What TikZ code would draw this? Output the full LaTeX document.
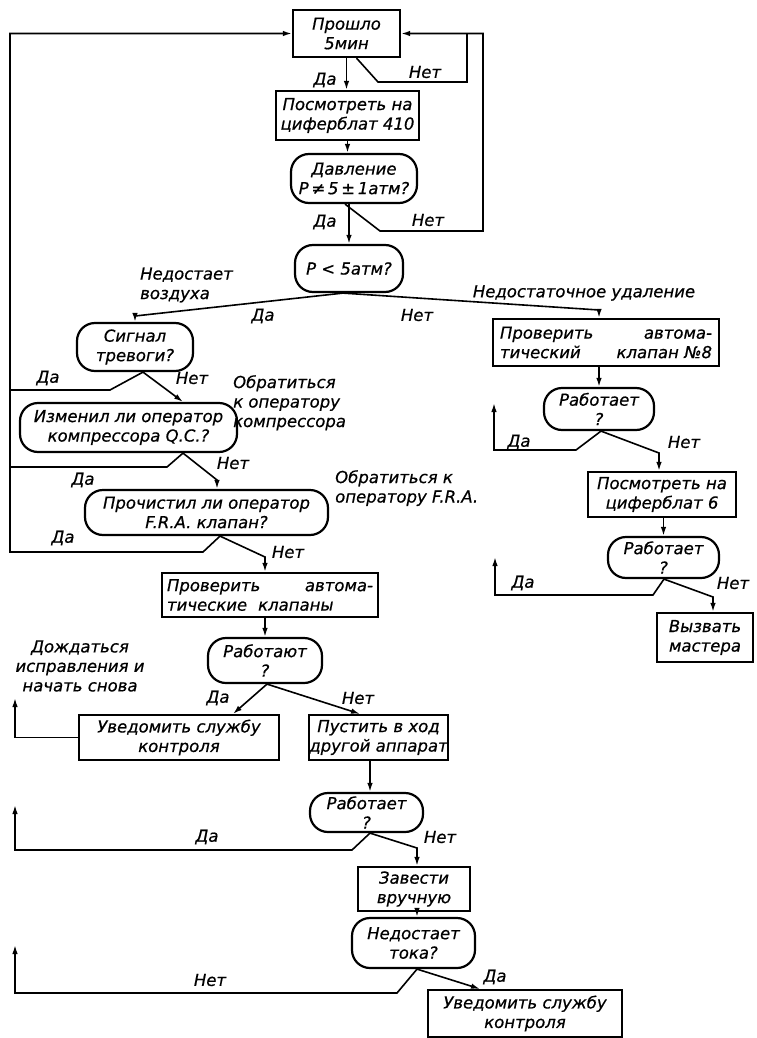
\documentclass[tikz,border=0pt]{standalone}
\usepackage{fontspec}
\setmainfont{DejaVu Sans}[FakeBold=0.6]
\usetikzlibrary{arrows.meta}
\begin{document}
\begin{tikzpicture}[x=1pt,y=-1pt,
  every node/.style={font=\fontsize{16.5}{19.5}\selectfont\itshape, inner sep=0pt},
  blk/.style={draw, line width=2.2pt, align=center},
  dec/.style={draw, line width=2.2pt, rounded corners=18pt, align=center},
  ln/.style={line width=1.6pt},
  arr/.style={ln, -{Latex[length=9pt,width=5.5pt]}},
]
\useasboundingbox (0,0) rectangle (756,1038);

% ---- main column ----
\node[blk, minimum width=107pt, minimum height=47pt] (box1) at (346.5,33.5) {Прошло\\5мин};
\node[blk, minimum width=143pt, minimum height=49pt] (box2) at (347.5,115.5) {Посмотреть на\\циферблат 410};
\node[dec, minimum width=126pt, minimum height=49pt] (dec1) at (354,178.5) {Давление\\P\,≠\,5\,±\,1атм?};
\node[dec, minimum width=108pt, minimum height=47pt] (decP) at (349,268.5) {P < 5атм?};
\node[dec, minimum width=116pt, minimum height=48pt] (sig) at (135,347) {Сигнал\\тревоги?};
\node[dec, minimum width=217pt, minimum height=49pt] (izm) at (128.5,427.5) {Изменил ли оператор\\компрессора Q.C.?};
\node[dec, minimum width=243pt, minimum height=45pt] (pro) at (206.5,512.5) {Прочистил ли оператор\\F.R.A. клапан?};
\node[blk, minimum width=216pt, minimum height=44pt, text width=206pt, align=left] (chk) at (270,595) {Проверить\hfill автома-\\тические\ \ клапаны};
\node[dec, minimum width=114pt, minimum height=45pt] (rab1) at (265,660.5) {Работают\\?};
\node[blk, minimum width=200pt, minimum height=45pt] (uv1) at (179,737.5) {Уведомить службу\\контроля};
\node[blk, minimum width=133pt, minimum height=45pt] (pus) at (378.5,737.5) {Пустить в ход\\другой аппарат};
\node[dec, minimum width=113pt, minimum height=39pt] (rab2) at (366.5,812.5) {Работает\\?};
\node[blk, minimum width=112pt, minimum height=44pt] (zav) at (414,889) {Завести\\вручную};
\node[dec, minimum width=123pt, minimum height=50pt] (ned) at (413.5,943) {Недостает\\тока?};
\node[blk, minimum width=194pt, minimum height=47pt] (uv2) at (525,1013.5) {Уведомить службу\\контроля};

% ---- right column ----
\node[blk, minimum width=226pt, minimum height=47pt, text width=212pt, align=left] (chk8) at (606,342.5) {Проверить\hfill автома-\\тический\hspace{14pt}\hfill клапан №8};
\node[dec, minimum width=110pt, minimum height=42pt] (rab3) at (599,409) {Работает\\?};
\node[blk, minimum width=148pt, minimum height=45pt] (cif6) at (662,494.5) {Посмотреть на\\циферблат 6};
\node[dec, minimum width=111pt, minimum height=41pt] (rab4) at (663.5,557.5) {Работает\\?};
\node[blk, minimum width=96pt, minimum height=49pt] (viz) at (705,637.5) {Вызвать\\мастера};

% ---- labels ----
\node (la1) at (325,80) {Да};
\node (ln1) at (425,72) {Нет};
\node (la2) at (325,222) {Да};
\node (ln2) at (428,220) {Нет};
\node[anchor=west, align=left] (tvoz) at (140,285) {Недостает\\воздуха};
\node (la3) at (263,316) {Да};
\node (ln3) at (417,315) {Нет};
\node (tudal) at (584,293) {Недостаточное удаление};
\node (la4) at (48,378) {Да};
\node (ln4) at (192,378) {Нет};
\node[anchor=north west, align=left] (tkomp) at (233,375) {Обратиться\\к оператору\\компрессора};
\node (ln5) at (233,463) {Нет};
\node (la5) at (83,480) {Да};
\node[anchor=north west, align=left] (tfra) at (335,470) {Обратиться к\\оператору F.R.A.};
\node (la6) at (63,538) {Да};
\node (ln6) at (288,552) {Нет};
\node (la7) at (519,442) {Да};
\node (ln7) at (684,442) {Нет};
\node (la8) at (523,583) {Да};
\node (ln8) at (733,583) {Нет};
\node[align=center] (twait) at (80,666) {Дождаться\\исправления и\\начать снова};
\node (la9) at (218,698) {Да};
\node (ln9) at (358,698) {Нет};
\node (la10) at (207,837) {Да};
\node (ln10) at (440,837) {Нет};
\node (ln11) at (210,980) {Нет};
\node (la11) at (495,977) {Да};

% ---- bend coordinates ----
\coordinate (t1) at (378,82);
\coordinate (t2) at (467,82);
\coordinate (t3) at (380,231);
\coordinate (t4) at (483,231);
\coordinate (p1) at (135,316);
\coordinate (p2) at (599,310);
\coordinate (L0) at (10,552);
\coordinate (q1) at (203,552);
\coordinate (s1) at (110,390);
\coordinate (i1) at (167,467);
\coordinate (i2) at (217,480);
\coordinate (q2) at (265,557);
\coordinate (u1) at (15,698);
\coordinate (r1) at (352,850);
\coordinate (u2) at (15,805);
\coordinate (r2) at (417,848);
\coordinate (n1) at (397,993);
\coordinate (u3) at (15,945);
\coordinate (k1) at (576,450);
\coordinate (u4) at (494,403);
\coordinate (k2) at (659,453);
\coordinate (m1) at (653,595);
\coordinate (u5) at (495,557);
\coordinate (m2) at (713,597);

% ---- connectors ----
\draw[arr] (box1.south) -- (box1.south |- box2.north);
\draw[ln] ([xshift=10pt]box1.south) -- (t1) -- (t2) -- (t2 |- box1.east);
\draw[arr] ([xshift=-9pt]dec1.south) -- (t3) -- (t4) |- (box1.east);
\draw[arr] (box2.south) -- (box2.south |- dec1.north);
\draw[arr] (dec1.south -| decP.north) -- (decP.north);

\draw[arr] ([xshift=-6pt]decP.south) -- (p1) -- (sig.north);
\draw[arr] ([xshift=-6pt]decP.south) -- (p2) -- (p2 |- chk8.north);

\draw[arr] ([xshift=13.5pt]pro.south) -- (q1) -- (L0) |- (box1.west);
\draw[ln] ([xshift=8pt]sig.south) -- (s1) -- (s1 -| L0);
\draw[arr] ([xshift=8pt]sig.south) -- ([xshift=54.5pt]izm.north);
\draw[ln] ([xshift=54.5pt]izm.south) -- (i1) -- (i1 -| L0);
\draw[arr] ([xshift=54.5pt]izm.south) -- (i2) -- (i2 |- pro.north);
\draw[arr] ([xshift=13.5pt]pro.south) -- (q2) -- (q2 |- chk.north);
\draw[arr] (rab1.north |- chk.south) -- (rab1.north);
\draw[arr] ([xshift=2pt]rab1.south) -- ([xshift=54pt]uv1.north);
\draw[arr] ([xshift=2pt]rab1.south) -- ([xshift=-18.5pt]pus.north);
\draw[arr] (uv1.west) -| (u1);
\draw[arr] ([xshift=-8.5pt]pus.south) -- ([xshift=-8.5pt]pus.south |- rab2.north);
\draw[arr] ([xshift=3.5pt]rab2.south) -- (r1) -| (u2);
\draw[arr] ([xshift=3.5pt]rab2.south) -- (r2) -- (r2 |- zav.north);
\draw[arr] ([xshift=3pt]zav.south) -- ([xshift=3pt]zav.south |- ned.north);
\draw[arr] ([xshift=3.5pt]ned.south) -- (n1) -| (u3);
\draw[arr] ([xshift=3.5pt]ned.south) -- ([xshift=-45pt]uv2.north);

\draw[arr] (rab3.north |- chk8.south) -- (rab3.north);
\draw[arr] ([xshift=2pt]rab3.south) -- (k1) -| (u4);
\draw[arr] ([xshift=2pt]rab3.south) -- (k2) -- (k2 |- cif6.north);
\draw[arr] (rab4.north |- cif6.south) -- (rab4.north);
\draw[arr] ([xshift=0.5pt]rab4.south) -- (m1) -| (u5);
\draw[arr] ([xshift=0.5pt]rab4.south) -- (m2) -- (m2 |- viz.north);
\end{tikzpicture}
\end{document}
